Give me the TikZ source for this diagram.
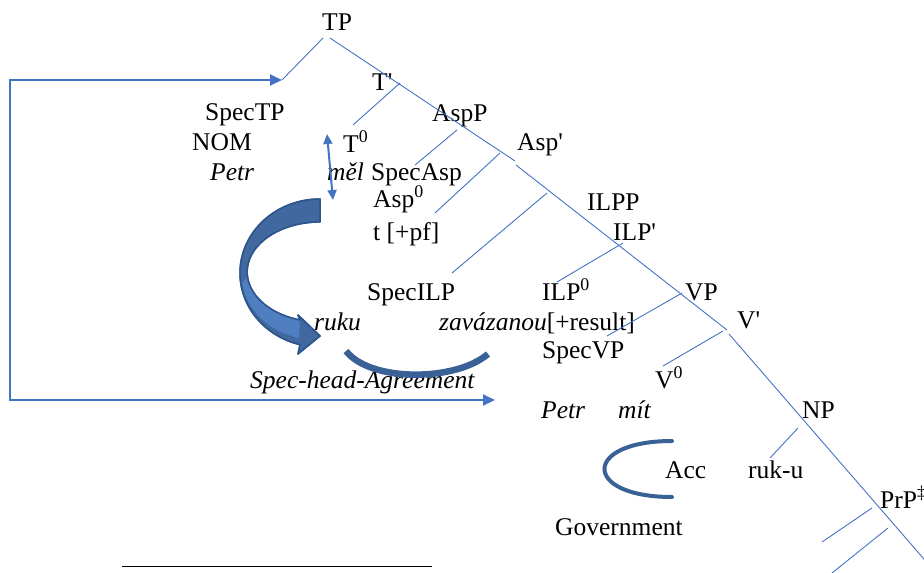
\documentclass[tikz,border=0pt]{standalone}
\usepackage{fontspec}
\setmainfont{Liberation Serif}
\usetikzlibrary{arrows.meta}
\definecolor{lineblue}{HTML}{4472C4}
\definecolor{arrowfill}{HTML}{41699F}
\definecolor{arrowedge}{HTML}{2F558E}
\definecolor{arrowlight}{HTML}{4F7FC0}
\definecolor{arcblue}{HTML}{3A6196}
\begin{document}
\begin{tikzpicture}[x=1pt,y=-1pt,
  lbl/.style={anchor=base west, inner sep=0pt, font=\fontsize{25.5}{30}\selectfont},
  branch/.style={draw=lineblue, line width=0.9pt},
  boxarrow/.style={draw=lineblue, line width=2pt, {Triangle[length=12pt,width=11pt]}-{Triangle[length=12pt,width=11pt]}},
  vertarrow/.style={draw=lineblue, line width=2pt, {Triangle[length=10pt,width=9pt]}-{Triangle[length=10pt,width=9pt]}},
  thickarc/.style={draw=arcblue, line width=6.5pt},
  govarc/.style={draw=arcblue, line width=4pt, line cap=round}]
\useasboundingbox (0,0) rectangle (924,573);

% labels
\node[lbl] (TP) at (322,30) {TP};
\node[lbl] (Tbar) at (372,90) {T\textquotesingle};
\node[lbl] (SpecTP) at (205,120) {SpecTP};
\node[lbl] (NOM) at (192,150) {NOM};
\node[lbl] (Petr1) at (210,180) {\itshape Petr};
\node[lbl] (T0) at (343,152) {T\textsuperscript{0}};
\node[lbl] (AspP) at (432,121) {AspP};
\node[lbl] (mel) at (327,180) {\itshape měl};
\node[lbl] (SpecAsp) at (371,180) {SpecAsp};
\node[lbl] (Asp0) at (373,207) {Asp\textsuperscript{0}};
\node[lbl] (tpf) at (373,240) {t [+pf]};
\node[lbl] (Aspbar) at (517,150) {Asp\textquotesingle};
\node[lbl] (ILPP) at (587,210) {ILPP};
\node[lbl] (ILPbar) at (613,240) {ILP\textquotesingle};
\node[lbl] (SpecILP) at (367,300) {SpecILP};
\node[lbl] (ILP0) at (542,300) {ILP\textsuperscript{0}};
\node[lbl] (VP) at (685,300) {VP};
\node[lbl] (ruku) at (314,330) {\itshape ruku};
\node[lbl] (zav) at (439,330) {\itshape zavázanou\upshape[+result]};
\node[lbl] (Vbar) at (737,328) {V\textquotesingle};
\node[lbl] (SpecVP) at (542,358) {SpecVP};
\node[lbl] (V0) at (655,388) {V\textsuperscript{0}};
\node[lbl] (SHA) at (250,388) {\itshape Spec-head-Agreement};
\node[lbl] (Petr2) at (541,418) {\itshape Petr};
\node[lbl] (mit) at (618,418) {\itshape mít};
\node[lbl] (NP) at (802,418) {NP};
\node[lbl] (Acc) at (665,478) {Acc};
\node[lbl] (ruku2) at (748,478) {ruk-u};
\node[lbl] (PrP) at (880,508) {PrP\textsuperscript{‡}};
\node[lbl] (Gov) at (555,535) {Government};

% tree coordinates
\coordinate (tpL) at (323,38);
\coordinate (tpR) at (330,38);
\coordinate (tpLend) at (282,80);
\coordinate (s1) at (515,161);
\coordinate (s2a) at (516,165);
\coordinate (s2b) at (727,330);
\coordinate (s3a) at (729,334);
\coordinate (s3b) at (936,573);
\coordinate (b1a) at (400,83);   \coordinate (b1b) at (353,125);
\coordinate (b2a) at (457,130);  \coordinate (b2b) at (415,165);
\coordinate (b3a) at (500,153);  \coordinate (b3b) at (435,213);
\coordinate (b4a) at (547,193);  \coordinate (b4b) at (452,273);
\coordinate (b5a) at (623,243);  \coordinate (b5b) at (557,282);
\coordinate (b6a) at (682,293);  \coordinate (b6b) at (607,336);
\coordinate (b7a) at (723,331);  \coordinate (b7b) at (663,366);
\coordinate (b8a) at (798,428);  \coordinate (b8b) at (770,458);
\coordinate (b9a) at (872,508);  \coordinate (b9b) at (822,542);
\coordinate (b10a) at (888,528); \coordinate (b10b) at (832,573);

\draw[branch] (tpL) -- (tpLend);
\draw[branch] (tpR) -- (s1);
\draw[branch] (s2a) -- (s2b);
\draw[branch] (s3a) -- (s3b);
\draw[branch] (b1a) -- (b1b);
\draw[branch] (b2a) -- (b2b);
\draw[branch] (b3a) -- (b3b);
\draw[branch] (b4a) -- (b4b);
\draw[branch] (b5a) -- (b5b);
\draw[branch] (b6a) -- (b6b);
\draw[branch] (b7a) -- (b7b);
\draw[branch] (b8a) -- (b8b);
\draw[branch] (b9a) -- (b9b);
\draw[branch] (b10a) -- (b10b);

% bracket arrow
\coordinate (boxTL) at (10,80);
\coordinate (boxBL) at (10,400);
\coordinate (boxEnd) at (495,400);
\draw[boxarrow] (tpLend) -- (boxTL) -- (boxBL) -- (boxEnd);

% vertical double arrow
\coordinate (vaTop) at (327,134);
\coordinate (vaBot) at (333,200);
\draw[vertarrow] (vaTop) -- (vaBot);

% big curved block arrow (ribbon)
\filldraw[fill=arrowfill, draw=arrowedge, line width=1.5pt, line join=round]
  (320,199) arc[start angle=270, end angle=104.5, x radius=80, y radius=74]
  -- (298,354) -- (320,336) -- (298,315) -- (300,320)
  arc[start angle=106, end angle=270, x radius=73, y radius=50] -- cycle;
\fill[arrowlight]
  (248,276) arc[start angle=175, end angle=106, x radius=72, y radius=50]
  -- (299,338) arc[start angle=104, end angle=172, x radius=76, y radius=66] -- cycle;
\draw[arrowedge, line width=1.5pt, line join=round]
  (320,199) arc[start angle=270, end angle=104.5, x radius=80, y radius=74]
  -- (298,354) -- (320,336) -- (298,315) -- (300,320)
  arc[start angle=106, end angle=270, x radius=73, y radius=50] -- cycle;

% spec-head arc
\coordinate (shA) at (346,351);
\coordinate (shB) at (488,354);
\draw[thickarc] (shA) .. controls (370,382) and (455,382) .. (shB);

% government arc
\coordinate (gA) at (672,441);
\coordinate (gB) at (672,497);
\draw[govarc] (gA) .. controls (582,441) and (582,497) .. (gB);

% footnote rule
\coordinate (fnA) at (122,566);
\coordinate (fnB) at (432,566);
\draw[black, line width=1pt] (fnA) -- (fnB);
\end{tikzpicture}
\end{document}
